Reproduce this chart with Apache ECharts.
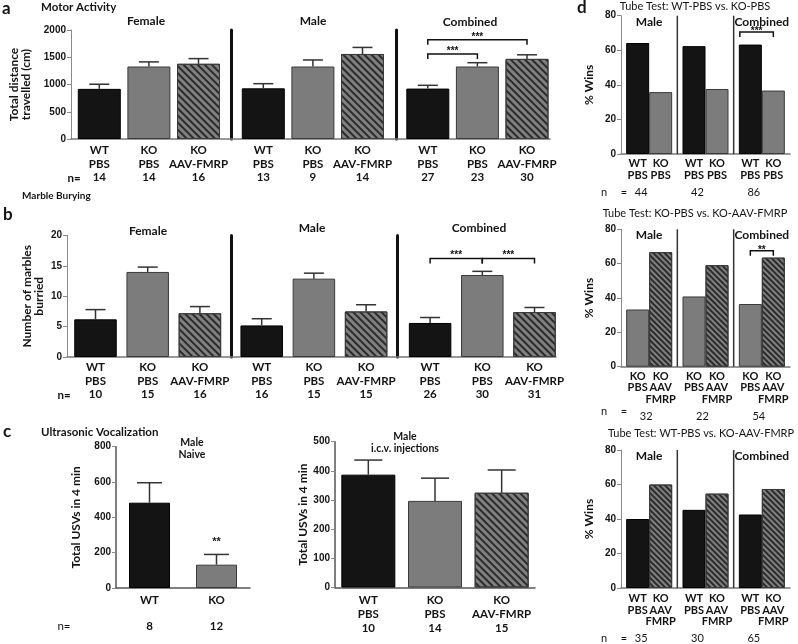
<!DOCTYPE html>
<html>
<head>
<meta charset="utf-8">
<script src="https://cdn.jsdelivr.net/npm/echarts@6/dist/echarts.min.js"></script>
<style>
  html, body { margin: 0; padding: 0; background: #fff; }
  #chart { width: 798px; height: 644px; }
</style>
</head>
<body>
<div id="chart"></div>
<script>
// ---------- data ----------
const sexGroups = ['Female', 'Male', 'Combined'];
const treatCats = ['WT\nPBS', 'KO\nPBS', 'KO\nAAV-FMRP'];

// a  Motor activity, total distance travelled (cm)
const motorMean = [[920, 1330, 1380], [930, 1330, 1560], [925, 1330, 1470]];
const motorSem = [[85, 85, 95], [85, 120, 120], [60, 70, 75]];
const motorN = [[14, 14, 16], [13, 9, 14], [27, 23, 30]];
const motorSig = [[0, 1, 1560, '***'], [0, 2, 1820, '***']]; // from, to, level

// b  Marble burying, number of marbles buried
const marbleMean = [[6.2, 14.0, 7.2], [5.2, 12.9, 7.5], [5.6, 13.5, 7.4]];
const marbleSem = [[1.6, 0.8, 1.1], [1.1, 0.9, 1.1], [0.9, 0.6, 0.75]];
const marbleN = [[10, 15, 16], [16, 15, 15], [26, 30, 31]];
const marbleSig = [[0, 1, 16.2, '***'], [1, 2, 16.2, '***']];

// c  Ultrasonic vocalization
const usvNaiveCats = ['WT', 'KO'];
const usvNaiveMean = [483, 132];
const usvNaiveSem = [113, 58];
const usvNaiveN = [8, 12];
const usvNaiveSig = ['', '**'];

const usvIcvMean = [387, 297, 325];
const usvIcvSem = [50, 78, 78];
const usvIcvN = [10, 14, 15];

// d  Tube tests, % wins
const tubeGroups = ['Male', 'Female', 'Combined'];
const tube1Cols = ['WT\nPBS', 'KO\nPBS'];
const tube1A = [64.2, 62.4, 63.3];
const tube1B = [35.8, 37.6, 36.7];
const tube1N = [44, 42, 86];
const tube1Sig = [[2, 2, 70.5, '***']];

const tube2Cols = ['KO\nPBS', 'KO\nAAV\nFMRP'];
const tube2A = [33.3, 40.9, 36.5];
const tube2B = [66.7, 59.1, 63.5];
const tube2N = [32, 22, 54];
const tube2Sig = [[2, 2, 67.5, '**']];

const tube3Cols = ['WT\nPBS', 'KO\nAAV\nFMRP'];
const tube3A = [40.0, 45.3, 42.6];
const tube3B = [60.0, 54.7, 57.4];
const tube3N = [35, 30, 65];

// ---------- styles ----------
const FONT = "'Liberation Sans', Arial, sans-serif";
const LATO = "Lato, 'Liberation Sans', sans-serif";
const INK = '#141414';

const wtStyle = { color: '#141414', borderColor: '#000', borderWidth: 1 };
const koStyle = { color: '#7c7c7c', borderColor: '#3a3a3a', borderWidth: 1 };
function hatchStyle(stripe, gap) {
  return {
    color: '#808080', borderColor: '#3a3a3a', borderWidth: 1,
    decal: { symbol: 'rect', symbolSize: 1, dashArrayX: [1, 0], dashArrayY: [stripe, gap],
             rotation: Math.PI / 4, color: '#2b2b2b' }
  };
}
const treatStyles = [wtStyle, koStyle, hatchStyle(2, 3)];

const grid = [], xAxis = [], yAxis = [], series = [], graphic = [];

function addAxes(g, x, y) {
  grid.push(g);
  x.gridIndex = grid.length - 1;
  y.gridIndex = grid.length - 1;
  xAxis.push(x); yAxis.push(y);
  return [xAxis.length - 1, yAxis.length - 1, grid.length - 1];
}

function valueAxis(min, max, interval, extra) {
  return Object.assign({
    type: 'value', min, max, interval,
    axisLine: { show: true, lineStyle: { color: '#8a8a8a', width: 1 } },
    axisTick: { show: true, length: 4, lineStyle: { color: '#8a8a8a' } },
    axisLabel: { color: INK, fontFamily: FONT, fontWeight: 'bold', fontSize: 10, margin: 5,
                 formatter: v => String(v) },
    splitLine: { show: false },
    nameLocation: 'middle',
    nameMoveOverlap: false,
    nameTextStyle: { color: INK, fontFamily: LATO, fontWeight: 'bold', fontSize: 12, lineHeight: 12 }
  }, extra);
}

function errorBars(xi, yi, mean, sem, cap, sig) {
  return {
    type: 'custom', xAxisIndex: xi, yAxisIndex: yi, z: 4, silent: true,
    data: mean.map((m, i) => [i, m, sem[i]]),
    encode: { x: 0, y: 1 },
    renderItem(params, api) {
      const lo = api.coord([api.value(0), api.value(1)]);
      const hi = api.coord([api.value(0), api.value(1) + api.value(2)]);
      const kids = [
        { type: 'line', shape: { x1: lo[0], y1: lo[1], x2: hi[0], y2: hi[1] }, style: { stroke: '#333', lineWidth: 1.5 } },
        { type: 'line', shape: { x1: hi[0] - cap / 2, y1: hi[1], x2: hi[0] + cap / 2, y2: hi[1] }, style: { stroke: '#333', lineWidth: 1.5 } }
      ];
      const s = sig && sig[params.dataIndex];
      if (s) {
        kids.push({ type: 'text', style: { text: s, x: hi[0], y: hi[1] - 12, textAlign: 'center',
          textVerticalAlign: 'middle', font: 'bold 11px ' + FONT, fill: '#222' } });
      }
      return { type: 'group', children: kids };
    }
  };
}

function brackets(xi, yi, list, shift, lift) {
  return {
    type: 'custom', xAxisIndex: xi, yAxisIndex: yi, z: 6, silent: true,
    data: list.map(b => [b[0], b[1], b[2]]),
    encode: { x: [0, 1], y: 2 },
    renderItem(params, api) {
      const p = api.coord([api.value(0), api.value(2)]);
      const q = api.coord([api.value(1), api.value(2)]);
      const x0 = p[0] + shift[0], x1 = q[0] + shift[1], y = p[1];
      return { type: 'group', children: [
        { type: 'polyline', shape: { points: [[x0, y + 5], [x0, y], [x1, y], [x1, y + 5]] },
          style: { stroke: '#111', lineWidth: 1.5, fill: null } },
        { type: 'text', style: { text: list[params.dataIndex][3], x: (x0 + x1) / 2, y: y - lift,
          textAlign: 'center', textVerticalAlign: 'middle', font: 'bold 10px ' + FONT, fill: '#111' } }
      ] };
    }
  };
}

// vertical separators between the sex groups of a tube-test plot
function dividers(xi, yi, count, max) {
  return {
    type: 'custom', xAxisIndex: xi, yAxisIndex: yi, z: 1, silent: true,
    data: Array.from({ length: count - 1 }, (_, k) => [k + 1, 0]),
    encode: { x: 0, y: 1 },
    renderItem(params, api) {
      const half = api.size([1, 0])[0] / 2;
      const b = api.coord([api.value(0), 0]);
      const t = api.coord([api.value(0), max]);
      return { type: 'line', shape: { x1: b[0] - half, y1: b[1], x2: t[0] - half, y2: t[1] },
               style: { stroke: '#333', lineWidth: 1.5 } };
    }
  };
}

function text(x, y, s, size, weight, align) {
  graphic.push({ type: 'text', x, y, silent: true,
    style: { text: s, fill: INK, textAlign: align || 'center', textVerticalAlign: 'middle',
             font: (weight || 'normal') + ' ' + size + 'px ' + LATO } });
}

const catLabel = { interval: 0, fontSize: 11.5, fontFamily: LATO, fontWeight: 'bold', color: INK };

// panels a and b: three sex groups, split by vertical dividers
function groupedPanel(c) {
  addAxes({ left: c.axisX, top: c.top, width: c.baseW, height: c.h },
    { type: 'category', data: [''], axisLine: { lineStyle: { color: '#777', width: 1.5 } },
      axisTick: { show: false }, axisLabel: { show: false } },
    valueAxis(c.min, c.max, c.interval, { name: c.yName, nameGap: c.nameGap }));
  c.lefts.forEach((left, g) => {
    const [xi, yi] = addAxes({ left, top: c.top, width: c.catW * 3, height: c.h },
      { type: 'category', data: treatCats, axisLine: { show: false }, axisTick: { show: false },
        axisLabel: Object.assign({ margin: c.labelMargin, lineHeight: c.lh,
          formatter: (v, i) => v + '\n' + c.n[g][i] }, catLabel) },
      { type: 'value', min: c.min, max: c.max, interval: c.interval, offset: c.divOffset[g],
        axisLine: { show: g > 0, lineStyle: { color: '#111', width: 3 } },
        axisTick: { show: false }, axisLabel: { show: false }, splitLine: { show: false } });
    series.push({ type: 'bar', xAxisIndex: xi, yAxisIndex: yi, barWidth: c.barW, silent: true,
      data: c.mean[g].map((v, i) => ({ value: v, itemStyle: treatStyles[i] })) });
    series.push(errorBars(xi, yi, c.mean[g], c.sem[g], 20));
    if (g === 2) series.push(brackets(xi, yi, c.sig, [0, 0], 3));
    text(c.titleX[g], c.titleY[g], sexGroups[g], 12, 'bold');
  });
}

groupedPanel({
  axisX: 64, top: 30, h: 109, baseW: 486, min: 0, max: 2000, interval: 500,
  yName: 'Total distance\ntravelled (cm)', nameGap: 39,
  lefts: [74.5, 238.5, 403], catW: 49.6, barW: 43, divOffset: [0, 6.8, 7],
  labelMargin: 5, lh: 13.5,
  mean: motorMean, sem: motorSem, n: motorN, sig: motorSig,
  titleX: [146, 313, 470], titleY: [21, 21, 22]
});

groupedPanel({
  axisX: 67, top: 235.5, h: 121.5, baseW: 489, min: 0, max: 20, interval: 5,
  yName: 'Number of marbles\nburried', nameGap: 22,
  lefts: [69.4, 235.6, 404], catW: 52.2, barW: 42.5, divOffset: [0, 3.9, 6.7],
  labelMargin: 4, lh: 13.5,
  mean: marbleMean, sem: marbleSem, n: marbleN, sig: marbleSig,
  titleX: [148, 312, 479], titleY: [231.5, 228, 228]
});

// panel c
(function () {
  let [xi, yi] = addAxes({ left: 116, top: 446.7, width: 134, height: 141.3 },
    { type: 'category', data: usvNaiveCats, axisLine: { lineStyle: { color: '#555', width: 1.5 } },
      axisTick: { show: false },
      axisLabel: Object.assign({ margin: 5.5, lineHeight: 13, formatter: (v, i) => v + '\n\n' + usvNaiveN[i] }, catLabel) },
    valueAxis(0, 800, 200, { name: 'Total USVs in 4 min', nameGap: 34,
      axisLine: { show: true, lineStyle: { color: '#555', width: 1.5 } } }));
  series.push({ type: 'bar', xAxisIndex: xi, yAxisIndex: yi, barWidth: 41, silent: true,
    data: usvNaiveMean.map((v, i) => ({ value: v, itemStyle: treatStyles[i] })) });
  series.push(errorBars(xi, yi, usvNaiveMean, usvNaiveSem, 25, usvNaiveSig));

  [xi, yi] = addAxes({ left: 335, top: 441.7, width: 200, height: 145.8 },
    { type: 'category', data: treatCats, axisLine: { lineStyle: { color: '#555', width: 1.5 } },
      axisTick: { show: false },
      axisLabel: Object.assign({ margin: 5.5, lineHeight: 14, formatter: (v, i) => v + '\n' + usvIcvN[i] }, catLabel) },
    valueAxis(0, 500, 100, { name: 'Total USVs in 4 min', nameGap: 26,
      axisLine: { show: true, lineStyle: { color: '#555', width: 1.5 } } }));
  series.push({ type: 'bar', xAxisIndex: xi, yAxisIndex: yi, barWidth: 54, silent: true,
    data: usvIcvMean.map((v, i) => ({ value: v, itemStyle: treatStyles[i] })) });
  series.push(errorBars(xi, yi, usvIcvMean, usvIcvSem, 28));
})();

// panel d: tube tests
function tubePanel(c) {
  const colA = c.cols[0].split('\n'), colB = c.cols[1].split('\n');
  const rows = Math.max(colA.length, colB.length);
  const [xi, yi, gi] = addAxes({ left: 621, top: c.top, width: 169, height: c.h },
    { type: 'category', data: tubeGroups, axisLine: { lineStyle: { color: '#777', width: 1.5 } },
      axisTick: { show: false },
      axisLabel: { interval: 0, margin: c.margin,
        formatter: (v, i) => {
          const lines = [];
          for (let r = 0; r < rows; r++) lines.push('{c|' + (colA[r] || ' ') + '}{c|' + (colB[r] || ' ') + '}');
          lines.push('{n|' + c.n[i] + '}');
          return lines.join('\n');
        },
        rich: {
          c: { width: 23, align: 'center', fontSize: 11, lineHeight: 11.5, fontFamily: LATO, fontWeight: 'bold', color: INK },
          n: { width: 46, align: 'center', fontSize: 11, lineHeight: 22, fontFamily: LATO, color: INK, padding: [0, c.nShift, 0, 0] }
        } } },
    valueAxis(0, 80, 20, { name: '% Wins', nameGap: 26 }));
  xAxis.push({ type: 'category', gridIndex: gi, position: 'top', data: tubeGroups,
    axisLine: { show: false }, axisTick: { show: false },
    axisLabel: { inside: true, margin: 0, fontSize: 12, fontFamily: LATO, fontWeight: 'bold', color: INK } });
  series.push(dividers(xi, yi, tubeGroups.length, 80));
  series.push({ type: 'bar', xAxisIndex: xi, yAxisIndex: yi, barWidth: 23, barGap: '0%', silent: true,
    data: c.a, itemStyle: c.styleA });
  series.push({ type: 'bar', xAxisIndex: xi, yAxisIndex: yi, barWidth: 23, barGap: '0%', silent: true,
    data: c.b, itemStyle: c.styleB });
  if (c.sig) series.push(brackets(xi, yi, c.sig, c.sigShift, 1));
  text(c.titleX, c.titleY, c.title, 11);
  text(604, c.nY, 'n', 11, 'normal');
  text(624, c.nY, '=', 11, 'normal');
}

const fineHatch = hatchStyle(1.5, 1.5);
tubePanel({ top: 15.7, h: 138.3, cols: tube1Cols, a: tube1A, b: tube1B, n: tube1N, sig: tube1Sig,
  sigShift: [-22, 11.5], styleA: wtStyle, styleB: koStyle, margin: 4, nShift: 16,
  title: 'Tube Test: WT-PBS vs. KO-PBS', titleX: 695, titleY: 6, nY: 192.7 });
tubePanel({ top: 229.3, h: 137.4, cols: tube2Cols, a: tube2A, b: tube2B, n: tube2N, sig: tube2Sig,
  sigShift: [-11.5, 11.5], styleA: koStyle, styleB: fineHatch, margin: 4, nShift: 6,
  title: 'Tube Test: KO-PBS vs. KO-AAV-FMRP', titleX: 695, titleY: 213, nY: 411.7 });
tubePanel({ top: 450, h: 138.3, cols: tube3Cols, a: tube3A, b: tube3B, n: tube3N,
  styleA: wtStyle, styleB: fineHatch, margin: 5, nShift: 16,
  title: 'Tube Test: WT-PBS vs. KO-AAV-FMRP', titleX: 701, titleY: 433, nY: 638.3 });

// panel letters, headings and sample-size prefixes
text(2, 9, 'a', 17, 'bold', 'left');
text(41, 7, 'Motor Activity', 11.5, 'bold', 'left');
text(74, 178, 'n=', 11.5, 'bold');
text(3, 215, 'b', 17, 'bold', 'left');
text(22, 196, 'Marble Burying', 10, 'bold', 'left');
text(64, 395, 'n=', 11.5, 'bold');
text(3, 432, 'c', 17, 'bold', 'left');
text(41, 432, 'Ultrasonic Vocalization', 11.5, 'bold', 'left');
text(192, 443, 'Male', 10.5, 'bold');
text(192, 455, 'Naive', 10.5, 'bold');
text(405, 437, 'Male', 10.5, 'bold');
text(405, 449, 'i.c.v. injections', 10.5, 'bold');
text(64, 626, 'n=', 11.5);
text(577, 8, 'd', 17, 'bold', 'left');

const chart = echarts.init(document.getElementById('chart'));
chart.setOption({ animation: false, backgroundColor: '#fff', grid, xAxis, yAxis, series, graphic });
</script>
</body>
</html>
